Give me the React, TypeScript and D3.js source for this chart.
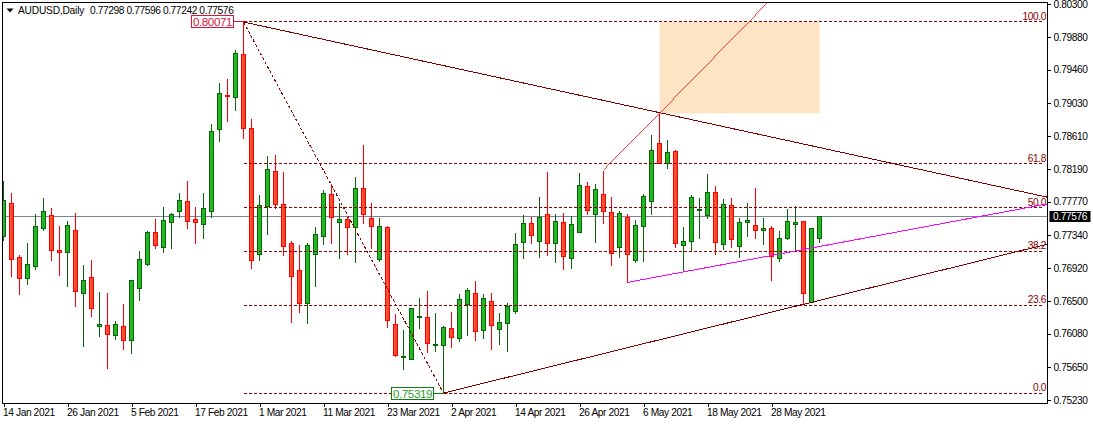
import { useEffect, useRef } from "react"
import * as d3 from "d3"

// prices in points (1e-5), one per daily bar
const opens = [
  77321, 77748, 77057, 76788, 76941, 77428, 77595, 77146, 77121, 77402, 76595, 76800, 76173, 76185, 76057, 76173, 75993,
  76659, 76967, 77377, 77185, 77505, 77646, 77774, 77543, 77479, 77646, 78696, 79132, 79106, 79657, 78709, 77095, 77710,
  78158, 77735, 77236, 76890, 76467, 77095, 77326, 77864, 77505, 77543, 77441, 77940, 77556, 77031, 77441, 76198, 75776,
  75750, 76292, 76288, 75929, 75929, 76147, 76015, 76454, 76595, 76121, 76493, 76134, 76211, 76361, 77253, 77492, 77262,
  77607, 77236, 77505, 77044, 77377, 77966, 77607, 77864, 77633, 77185, 77569, 77018, 77454, 77774, 78517, 78261, 78414,
  77210, 77262, 77659, 77595, 77889, 77223, 77723, 77197, 77505, 77466, 77402, 77428, 77044, 77300, 77479, 77518, 76484,
  77298,
]
const highs = [
  78047, 77885, 77099, 77253, 77612, 77817, 77701, 77471, 77535, 77637, 76971, 77035, 76625, 76612, 76254, 76472, 76775,
  77150, 77407, 77560, 77714, 77637, 77881, 78047, 77714, 77893, 78765, 79290, 79341, 79721, 80071, 78829, 77868, 78367,
  78380, 78150, 77274, 77215, 77253, 77458, 77932, 78004, 77761, 77577, 78098, 78496, 77753, 77569, 77466, 76343, 76139,
  76403, 76548, 76638, 76356, 76185, 76369, 76600, 76677, 76766, 76600, 76612, 76356, 76484, 77381, 77607, 77582, 77838,
  78162, 77620, 77633, 77595, 78145, 78030, 78004, 78175, 77838, 77659, 77620, 77543, 77876, 78624, 78901, 78560, 78440,
  77458, 77864, 77825, 78133, 77979, 77812, 77825, 77569, 77761, 77953, 77569, 77466, 77402, 77684, 77723, 77531, 77441,
  77596,
]
const lows = [
  77270, 76809, 76578, 76706, 76899, 77398, 77014, 76822, 76681, 76425, 75912, 76296, 76040, 75630, 76002, 75874, 75823,
  76501, 76954, 77168, 77116, 77168, 77569, 77432, 77232, 77296, 77569, 78538, 78794, 78935, 78577, 76911, 77022, 77347,
  77680, 77078, 76220, 76348, 76207, 76681, 77219, 77232, 77039, 77091, 76988, 77488, 77168, 77001, 76156, 75788, 75618,
  75750, 76143, 75835, 75848, 75319, 75899, 75976, 76053, 75989, 76015, 75874, 75938, 75848, 76335, 77039, 77232, 77052,
  77078, 76988, 76899, 76911, 77377, 77603, 77244, 77488, 76950, 77052, 76736, 76993, 77001, 77603, 78256, 78192, 77180,
  76877, 77129, 77296, 77552, 77091, 77155, 77180, 77052, 77321, 77296, 77219, 76758, 77001, 77283, 77133, 76459, 76480,
  77242,
]
const closes = [
  77787, 77031, 76788, 76967, 77454, 77646, 77146, 77121, 77466, 76621, 76762, 76403, 76198, 76070, 76198, 75993, 76762,
  77031, 77377, 77206, 77531, 77607, 77787, 77518, 77505, 77684, 78671, 79157, 79119, 79670, 78709, 77018, 77723, 78184,
  77735, 77197, 76813, 76467, 77210, 77351, 77876, 77569, 77543, 77441, 77940, 77607, 77454, 77454, 76250, 75801, 75788,
  76403, 76301, 75955, 75942, 76160, 76032, 76519, 76634, 76109, 76531, 76185, 76224, 76429, 77223, 77492, 77338, 77569,
  77236, 77518, 77069, 77479, 77979, 77659, 77928, 77646, 77108, 77620, 77095, 77466, 77838, 78427, 78256, 78402, 77236,
  77262, 77825, 77671, 77889, 77253, 77735, 77287, 77505, 77531, 77402, 77428, 77069, 77300, 77518, 77505, 76595, 77428,
  77576,
]

const dateLabels = [
  "14 Jan 2021", "26 Jan 2021", "5 Feb 2021", "17 Feb 2021", "1 Mar 2021", "11 Mar 2021", "23 Mar 2021",
  "2 Apr 2021", "14 Apr 2021", "26 Apr 2021", "6 May 2021", "18 May 2021", "28 May 2021",
]
const priceTicks = [80300, 79880, 79460, 79030, 78610, 78190, 77770, 77340, 76920, 76500, 76080, 75650, 75230]

const fibLevels = [100.0, 61.8, 50.0, 38.2, 23.6, 0.0]
const fibHigh = 80071
const fibLow = 75319

// bar index + price for the drawn objects
const fibStartBar = 30
const fibLowBar = 55
const fibEndBar = 130
const lastClose = 77576
const zone = { fromBar: 82, toBar: 102, top: 80071, bottom: 78901 }
const upperTrend = [[30, 80071], [130.4, 77829]]
const lowerTrend = [[55, 75319], [130.4, 77224]]
const magentaTrend = [[78, 76736], [130.4, 77740]]
const redTrend = [[75, 78175], [82, 78901], [102, 81000]]

const uiFont = "'Liberation Sans', sans-serif"
const uiSize = 10.2
const uiSpacing = -0.4
const fibRed = "#8B0000"

export default function App() {
  const svgRef = useRef<SVGSVGElement>(null)

  useEffect(() => {
    if (!svgRef.current) return

    const width = 1093
    const height = 424
    const plot = { left: 2.5, top: 2.5, right: 1047.5, bottom: 403.5 }

    d3.select(svgRef.current).selectAll("*").remove()

    const svg = d3.select(svgRef.current).attr("width", width).attr("height", height)

    const x = d3.scaleLinear().domain([0, 1]).range([3.5, 11.5])
    const y = d3.scaleLinear().domain([75230, 80300]).range([400, 4.1])
    const snap = (v: number) => Math.round(v - 0.5) + 0.5

    svg
      .append("defs")
      .append("clipPath")
      .attr("id", "plot-clip")
      .append("rect")
      .attr("x", plot.left)
      .attr("y", plot.top)
      .attr("width", plot.right - plot.left)
      .attr("height", plot.bottom - plot.top)

    const g = svg.append("g").attr("clip-path", "url(#plot-clip)")

    // Target zone sits behind everything
    g.append("rect")
      .attr("x", x(zone.fromBar))
      .attr("y", y(zone.top))
      .attr("width", x(zone.toBar) - x(zone.fromBar))
      .attr("height", y(zone.bottom) - y(zone.top))
      .attr("fill", "#FFE4C4")

    // Current price line
    g.append("line")
      .attr("x1", plot.left)
      .attr("x2", plot.right)
      .attr("y1", snap(y(lastClose)))
      .attr("y2", snap(y(lastClose)))
      .attr("stroke", "#778899")
      .attr("shape-rendering", "crispEdges")

    // Candles
    const bars = d3.range(opens.length)
    const candles = g
      .append("g")
      .attr("shape-rendering", "crispEdges")
      .selectAll("g")
      .data(bars)
      .join("g")
      .attr("stroke", (i) => (closes[i] >= opens[i] ? "#0A640A" : "#FF0000"))

    candles
      .append("line")
      .attr("x1", (i) => x(i))
      .attr("x2", (i) => x(i))
      .attr("y1", (i) => snap(y(highs[i])))
      .attr("y2", (i) => snap(y(lows[i])))

    candles
      .append("rect")
      .attr("x", (i) => x(i) - 2)
      .attr("width", 4)
      .attr("y", (i) => snap(y(Math.max(opens[i], closes[i]))))
      .attr("height", (i) => snap(y(Math.min(opens[i], closes[i]))) - snap(y(Math.max(opens[i], closes[i]))))
      .attr("fill", (i) => (closes[i] >= opens[i] ? "#22B822" : "#FF4F30"))

    // Fibonacci levels
    const fibPrice = (level: number) => fibLow + ((fibHigh - fibLow) * level) / 100

    g.append("g")
      .selectAll("line")
      .data(fibLevels)
      .join("line")
      .attr("x1", x(fibStartBar))
      .attr("x2", x(fibEndBar))
      .attr("y1", (d) => snap(y(fibPrice(d))))
      .attr("y2", (d) => snap(y(fibPrice(d))))
      .attr("stroke", fibRed)
      .attr("stroke-dasharray", "3,2")
      .attr("shape-rendering", "crispEdges")

    g.append("line")
      .attr("x1", x(fibStartBar))
      .attr("y1", y(fibHigh))
      .attr("x2", x(fibLowBar))
      .attr("y2", y(fibLow))
      .attr("stroke", fibRed)
      .attr("stroke-dasharray", "3,2")
      .attr("shape-rendering", "crispEdges")

    g.append("g")
      .selectAll("text")
      .data(fibLevels)
      .join("text")
      .attr("x", plot.right - 1.5)
      .attr("y", (d) => y(fibPrice(d)) - 2)
      .attr("text-anchor", "end")
      .attr("font-family", uiFont)
      .attr("font-size", uiSize)
      .attr("letter-spacing", uiSpacing)
      .attr("fill", fibRed)
      .text((d) => d.toFixed(1))

    // Trend lines
    const trendPath = d3
      .line<number[]>()
      .x((d) => x(d[0]))
      .y((d) => y(d[1]))

    const trends: [number[][], string, number][] = [
      [upperTrend, "#800000", 1],
      [lowerTrend, "#800000", 1],
      [magentaTrend, "#FF00FF", 1],
      [redTrend, "#FF0000", 0.75],
    ]
    g.append("g")
      .attr("shape-rendering", "crispEdges")
      .selectAll("path")
      .data(trends)
      .join("path")
      .attr("d", (d) => trendPath(d[0]))
      .attr("fill", "none")
      .attr("stroke", (d) => d[1])
      .attr("stroke-width", (d) => d[2])

    // Price callouts for the swing high and low
    const callouts = [
      { price: fibHigh, bar: fibStartBar, color: "#DC143C", text: "#DC143C" },
      { price: fibLow, bar: fibLowBar, color: "#117A11", text: "#2E9E2E" },
    ]
    const callout = svg.append("g").selectAll("g").data(callouts).join("g")

    callout
      .append("line")
      .attr("x1", (d) => x(d.bar) - 10)
      .attr("x2", (d) => x(d.bar))
      .attr("y1", (d) => snap(y(d.price)))
      .attr("y2", (d) => snap(y(d.price)))
      .attr("stroke", (d) => d.color)
      .attr("shape-rendering", "crispEdges")

    callout
      .append("rect")
      .attr("x", (d) => x(d.bar) - 52)
      .attr("y", (d) => snap(y(d.price)) - 6)
      .attr("width", 42)
      .attr("height", 12)
      .attr("fill", "#fff")
      .attr("stroke", (d) => d.color)
      .attr("shape-rendering", "crispEdges")

    callout
      .append("text")
      .attr("x", (d) => x(d.bar) - 31)
      .attr("y", (d) => snap(y(d.price)) + 4.5)
      .attr("text-anchor", "middle")
      .attr("font-family", uiFont)
      .attr("font-size", 11.6)
      .attr("letter-spacing", uiSpacing)
      .attr("fill", (d) => d.text)
      .text((d) => (d.price / 100000).toFixed(5))

    // Frame
    svg
      .append("rect")
      .attr("x", plot.left)
      .attr("y", plot.top)
      .attr("width", plot.right - plot.left)
      .attr("height", plot.bottom - plot.top)
      .attr("fill", "none")
      .attr("stroke", "#000")
      .attr("shape-rendering", "crispEdges")

    // Y axis
    const yAxis = svg
      .append("g")
      .attr("transform", `translate(${plot.right},0)`)
      .call(
        d3
          .axisRight(y)
          .tickValues(priceTicks)
          .tickSize(3)
          .tickPadding(3)
          .tickFormat((d) => (+d / 100000).toFixed(5))
      )
    yAxis.select(".domain").remove()
    yAxis.selectAll("line").attr("stroke", "#000").attr("shape-rendering", "crispEdges")
    yAxis
      .selectAll("text")
      .attr("font-family", uiFont)
      .attr("font-size", uiSize)
      .attr("letter-spacing", uiSpacing)
      .attr("fill", "#000")

    // X axis
    const xAxis = svg
      .append("g")
      .attr("transform", `translate(0,${plot.bottom})`)
      .call(
        d3
          .axisBottom(x)
          .tickValues(dateLabels.map((_, i) => i * 8))
          .tickSize(3)
          .tickPadding(2)
          .tickFormat((_, i) => dateLabels[i])
      )
    xAxis.select(".domain").remove()
    xAxis.selectAll("line").attr("stroke", "#000").attr("shape-rendering", "crispEdges")
    xAxis
      .selectAll("text")
      .attr("text-anchor", "start")
      .attr("dx", -1)
      .attr("font-family", uiFont)
      .attr("font-size", uiSize)
      .attr("letter-spacing", uiSpacing)
      .attr("fill", "#000")

    // Current price tag
    svg
      .append("rect")
      .attr("x", plot.right + 2)
      .attr("y", snap(y(lastClose)) - 5.5)
      .attr("width", 41)
      .attr("height", 11)
      .attr("fill", "#000")
    svg
      .append("text")
      .attr("x", plot.right + 5.5)
      .attr("y", snap(y(lastClose)) + 3.5)
      .attr("font-family", uiFont)
      .attr("font-size", uiSize)
      .attr("letter-spacing", uiSpacing)
      .attr("fill", "#fff")
      .text((lastClose / 100000).toFixed(5))

    // Header
    svg.append("path").attr("d", d3.line()([[6.5, 8.5], [13.5, 8.5], [10, 12.5]])).attr("fill", "#000")
    svg
      .append("text")
      .attr("x", 18)
      .attr("y", 14)
      .attr("font-family", uiFont)
      .attr("font-size", uiSize)
      .attr("letter-spacing", -0.2)
      .attr("fill", "#000")
      .text("AUDUSD,Daily")
    svg
      .append("text")
      .attr("x", 90)
      .attr("y", 14)
      .attr("font-family", uiFont)
      .attr("font-size", uiSize)
      .attr("letter-spacing", uiSpacing)
      .attr("fill", "#000")
      .text(
        [opens[102], highs[102], lows[102], closes[102]].map((v) => (v / 100000).toFixed(5)).join(" ")
      )
  }, [])

  return <svg ref={svgRef} style={{ position: "fixed", left: 0, top: 0, background: "#fff" }} />
}
